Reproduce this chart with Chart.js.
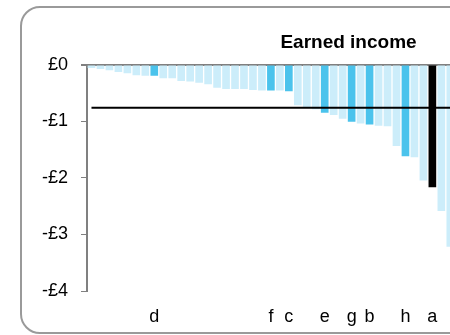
<!DOCTYPE html>
<html>
<head>
<meta charset="utf-8">
<script src="https://cdn.jsdelivr.net/npm/chart.js@4"></script>
<style>
  html, body { margin: 0; padding: 0; background: #fff; overflow: hidden; }
  body { width: 450px; height: 335px; position: relative; }
  .frame {
    position: absolute; left: 20px; top: 6px; width: 800px; height: 328px;
    box-sizing: border-box; border: 2px solid #9a9a9a; border-radius: 20px;
  }
  #chart { position: absolute; left: 0; top: 0; }
</style>
</head>
<body>
<div class="frame"></div>
<canvas id="chart" width="697" height="335"></canvas>
<script>
// visible bars, left to right (the chart runs on past the right edge)
const categories = ['', '', '', '', '', '', '', 'd', '', '', '', '', '', '', '', '', '', '', '', '', 'f', '', 'c', '', '', '', 'e', '', '', 'g', '', 'b', '', '', '', 'h', '', '', 'a', '', ''];
const values = [-0.05, -0.07, -0.09, -0.12, -0.145, -0.18, -0.19, -0.19, -0.23, -0.23,
                -0.28, -0.29, -0.31, -0.34, -0.40, -0.42, -0.42, -0.42, -0.44, -0.45,
                -0.45, -0.45, -0.46, -0.71, -0.74, -0.78, -0.84, -0.88, -0.95, -1.00,
                -1.03, -1.05, -1.07, -1.08, -1.43, -1.61, -1.63, -2.04, -2.16, -2.58, -3.21];
const average = -0.76;
const yTickLabels = ['£0', '-£1', '-£2', '-£3', '-£4'];
const hiddenBars = 27; // cut off by the frame

const labels = categories.concat(new Array(hiddenBars).fill(''));
const barColors = categories.map(c => c === 'a' ? '#000000' : (c ? '#4bc3ec' : '#ccedfa'));
const font = { family: "'Liberation Sans', Arial, sans-serif", size: 18 };

new Chart(document.getElementById('chart'), {
    data: {
        labels: labels,
        datasets: [{
            type: 'line',
            data: labels.map(() => average),
            borderColor: '#000',
            borderWidth: 2,
            pointRadius: 0,
            fill: false
        }, {
            type: 'bar',
            data: values,
            backgroundColor: barColors,
            barThickness: 7
        }]
    },
    options: {
        responsive: false,
        animation: false,
        layout: { padding: 0 },
        plugins: {
            legend: { display: false },
            tooltip: { enabled: false },
            title: {
                display: true,
                text: 'Earned income',
                color: '#000',
                font: { family: font.family, size: 19, weight: 'bold' },
                padding: { top: 31, bottom: 11 }
            }
        },
        scales: {
            x: {
                afterFit: scale => { scale.height = 44; },
                // tick marks are hidden; tickLength only pushes the labels down
                grid: { display: false, drawTicks: true, tickLength: 15 },
                border: { display: false },
                ticks: { autoSkip: false, maxRotation: 0, color: '#000', font: font, padding: 0 }
            },
            y: {
                min: -4,
                max: 0,
                afterFit: scale => { scale.width = 87; },
                border: { color: '#808080', width: 2 },
                grid: {
                    color: ctx => ctx.tick && ctx.tick.value === 0 ? '#808080' : 'rgba(0,0,0,0)',
                    lineWidth: ctx => ctx.tick && ctx.tick.value === 0 ? 2 : 1,
                    tickColor: '#808080',
                    tickWidth: ctx => ctx.tick && ctx.tick.value === 0 ? 2 : 1,
                    tickLength: 6
                },
                ticks: {
                    stepSize: 1,
                    color: '#000',
                    font: font,
                    padding: 13,
                    callback: v => yTickLabels[-v]
                }
            }
        }
    }
});
</script>
</body>
</html>
